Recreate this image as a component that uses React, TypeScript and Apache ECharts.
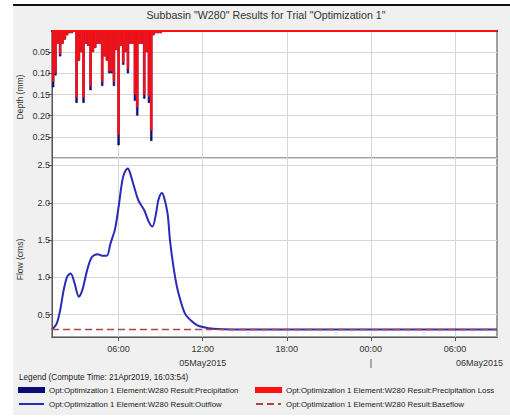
import React, { useEffect, useRef } from "react";
import * as echarts from "echarts";

const FONT = '"Liberation Sans", Arial, Helvetica, sans-serif';

const chartTitle = 'Subbasin "W280" Results for Trial "Optimization 1"';
const legendTitle = "Legend (Compute Time: 21Apr2019, 16:03:54)";
const precipName = "Opt:Optimization 1 Element:W280 Result:Precipitation";
const lossName = "Opt:Optimization 1 Element:W280 Result:Precipitation Loss";
const outflowName = "Opt:Optimization 1 Element:W280 Result:Outflow";
const baseflowName = "Opt:Optimization 1 Element:W280 Result:Baseflow";
const depthAxisName = "Depth (mm)";
const flowAxisName = "Flow (cms)";

const axisStart = "2015-05-05T01:15:00";
const axisEnd = "2015-05-06T09:00:00";
const xTickTimes = [
  "2015-05-05T06:00:00",
  "2015-05-05T12:00:00",
  "2015-05-05T18:00:00",
  "2015-05-06T00:00:00",
  "2015-05-06T06:00:00",
];
const dateLabels = [
  { time: "2015-05-05T12:00:00", text: "05May2015" },
  { time: "2015-05-06T00:00:00", text: "|" },
  { time: "2015-05-06T06:00:00", text: "06May2015" },
];

// Incremental precipitation and loss, 10-minute blocks starting at precipStart
const precipStart = "2015-05-05T01:15:00";
const precipStepMinutes = 10;
const precipDepth = [
  0.133, 0.105, 0.03, 0.06, 0.03, 0.02, 0.01, 0.005, 0.005, 0,
  0.17, 0.07, 0.05, 0.17, 0.03, 0.035, 0.14, 0.05, 0.04, 0.03,
  0.03, 0.13, 0.06, 0.07, 0.1, 0.1, 0.13, 0.045, 0.27, 0.035,
  0.08, 0.05, 0.1, 0.03, 0.03, 0.165, 0.2, 0.03, 0.03, 0.16,
  0.05, 0.17, 0.26, 0.01, 0.005, 0.005, 0.005,
];
const lossDepth = [
  0.12, 0.1, 0.03, 0.055, 0.03, 0.02, 0.01, 0.005, 0.005, 0,
  0.158, 0.07, 0.05, 0.158, 0.03, 0.035, 0.13, 0.05, 0.04, 0.03,
  0.03, 0.12, 0.06, 0.07, 0.095, 0.095, 0.12, 0.045, 0.245, 0.035,
  0.075, 0.05, 0.09, 0.03, 0.03, 0.15, 0.18, 0.03, 0.03, 0.15,
  0.05, 0.155, 0.235, 0.01, 0.005, 0.005, 0.005,
];

const outflowTimes = [
  "2015-05-05T01:15", "2015-05-05T01:35", "2015-05-05T01:50", "2015-05-05T02:05",
  "2015-05-05T02:20", "2015-05-05T02:35", "2015-05-05T02:50", "2015-05-05T03:10",
  "2015-05-05T03:25", "2015-05-05T03:45", "2015-05-05T04:05", "2015-05-05T04:30",
  "2015-05-05T04:50", "2015-05-05T05:10", "2015-05-05T05:25", "2015-05-05T05:45",
  "2015-05-05T06:00", "2015-05-05T06:15", "2015-05-05T06:25", "2015-05-05T06:40",
  "2015-05-05T06:50", "2015-05-05T07:05", "2015-05-05T07:25", "2015-05-05T07:50",
  "2015-05-05T08:10", "2015-05-05T08:25", "2015-05-05T08:40", "2015-05-05T08:50",
  "2015-05-05T09:05", "2015-05-05T09:15", "2015-05-05T09:30", "2015-05-05T09:40",
  "2015-05-05T09:55", "2015-05-05T10:10", "2015-05-05T10:25", "2015-05-05T10:45",
  "2015-05-05T11:10", "2015-05-05T11:35", "2015-05-05T12:05", "2015-05-05T12:45",
  "2015-05-05T14:10", "2015-05-05T18:00", "2015-05-06T00:00", "2015-05-06T06:00",
  "2015-05-06T09:00",
];
const outflowValues = [
  0.3, 0.38, 0.56, 0.83,
  1.01, 1.05, 0.94, 0.74,
  0.83, 1.09, 1.27, 1.31,
  1.29, 1.29, 1.45, 1.65,
  1.94, 2.28, 2.4, 2.46,
  2.39, 2.23, 2.03, 1.9,
  1.74, 1.68, 1.85, 2.03,
  2.13, 2.07, 1.85, 1.5,
  1.14, 0.87, 0.69, 0.51,
  0.42, 0.36, 0.33, 0.31,
  0.3, 0.3, 0.3, 0.3,
  0.3,
];

const baseflowTimes = ["2015-05-05T01:15", "2015-05-06T09:00"];
const baseflowValues = [0.3, 0.3];

const ms = (s: string) => new Date(s).getTime();

export default function App() {
  const ref = useRef<HTMLDivElement>(null);

  useEffect(() => {
    if (!ref.current) return;
    const chart = echarts.init(ref.current, null, { renderer: "svg" });

    const step = precipStepMinutes * 60000;
    const p0 = ms(precipStart);
    const precipData = precipDepth.map((v, i) => [p0 + step * i + step / 2, v]);
    const lossData = lossDepth.map((v, i) => [p0 + step * i + step / 2, v]);
    const outflowData = outflowTimes.map((s, i) => [ms(s), outflowValues[i]]);
    const baseflowData = baseflowTimes.map((s, i) => [ms(s), baseflowValues[i]]);

    const xMin = ms(axisStart);
    const xMax = ms(axisEnd);
    const tickValues = xTickTimes.map(ms);
    const gridLine = { show: true, lineStyle: { color: "#d6d6d6", width: 1 } };
    const frameColor = "#555";

    const xLabelFormatter = (value: number) => {
      const d = new Date(value);
      const hh = String(d.getHours()).padStart(2, "0") + ":" + String(d.getMinutes()).padStart(2, "0");
      const idx = dateLabels.findIndex((x) => ms(x.time) === value);
      if (idx < 0) return `{t|${hh}}`;
      const key = idx === dateLabels.length - 1 ? "r" : "t";
      return `{t|${hh}}\n{${key}|${dateLabels[idx].text}}`;
    };

    const legendBase = {
      orient: "horizontal",
      padding: 0,
      itemWidth: 25,
      itemHeight: 4,
      itemGap: 0,
      selectedMode: false,
      textStyle: { fontSize: 7.9, color: "#1a1a1a", fontFamily: FONT },
    };

    const option: any = {
      animation: false,
      backgroundColor: "transparent",
      textStyle: { fontFamily: FONT },
      graphic: [
        {
          type: "text",
          x: 266,
          y: 15,
          style: {
            text: chartTitle,
            align: "center",
            verticalAlign: "middle",
            fontSize: 10.7,
            fill: "#333",
            fontFamily: FONT,
          },
        },
        {
          type: "text",
          x: 19,
          y: 377,
          style: {
            text: legendTitle,
            align: "left",
            verticalAlign: "middle",
            fontSize: 8.2,
            fill: "#1a1a1a",
            fontFamily: FONT,
          },
        },
      ],
      grid: [
        {
          left: 52, top: 31, width: 445, height: 127,
          show: true, backgroundColor: "#fff", borderColor: "#a0a0a0", borderWidth: 2,
          outerBoundsMode: "none",
        },
        {
          left: 52, top: 158, width: 445, height: 179,
          show: true, backgroundColor: "#fff", borderColor: "#a0a0a0", borderWidth: 2,
          outerBoundsMode: "none",
        },
      ],
      xAxis: [
        {
          type: "value", gridIndex: 0, min: xMin, max: xMax,
          position: "bottom",
          axisLine: { show: true, lineStyle: { color: "#111", width: 2 } },
          axisTick: { show: false, customValues: tickValues },
          axisLabel: { show: false, customValues: tickValues },
          splitLine: gridLine,
        },
        {
          type: "value", gridIndex: 1, min: xMin, max: xMax,
          position: "bottom",
          axisLine: { show: true, lineStyle: { color: frameColor, width: 1 } },
          axisTick: { show: true, length: 4, lineStyle: { color: frameColor }, customValues: tickValues },
          axisLabel: {
            show: true,
            margin: 5,
            customValues: tickValues,
            formatter: xLabelFormatter,
            hideOverlap: false,
            rich: {
              t: { fontSize: 9, color: "#333", lineHeight: 14, fontFamily: FONT },
              r: { fontSize: 9, color: "#333", lineHeight: 14, fontFamily: FONT, padding: [0, 0, 0, 49] },
            },
          },
          splitLine: gridLine,
        },
      ],
      yAxis: [
        {
          type: "value", gridIndex: 0, inverse: true, min: 0, max: 0.3, interval: 0.05,
          name: depthAxisName, nameLocation: "middle", nameGap: 28, nameMoveOverlap: false,
          nameTextStyle: { fontSize: 8.5, color: "#333", fontFamily: FONT, padding: [0, 5, 0, 0] },
          axisLine: { show: true, lineStyle: { color: frameColor, width: 1 } },
          axisTick: { show: true, length: 4, lineStyle: { color: frameColor } },
          axisLabel: {
            fontSize: 9, color: "#333", margin: 2, showMinLabel: false, showMaxLabel: false,
            formatter: (v: number) => (v <= 0.0001 || v >= 0.2999 ? "" : v.toFixed(2)),
          },
          splitLine: gridLine,
        },
        {
          type: "value", gridIndex: 1, min: 0.2, max: 2.6, splitNumber: 5,
          name: flowAxisName, nameLocation: "middle", nameGap: 28, nameMoveOverlap: false,
          nameTextStyle: { fontSize: 8.5, color: "#333", fontFamily: FONT, padding: [0, 24, 0, 0] },
          axisLine: { show: true, lineStyle: { color: frameColor, width: 1 } },
          axisTick: { show: true, length: 4, lineStyle: { color: frameColor } },
          axisLabel: {
            fontSize: 9, color: "#333", margin: 2, showMinLabel: false, showMaxLabel: false,
            formatter: (v: number) => {
              const r = Math.round(v * 2) / 2;
              return Math.abs(r - v) < 1e-6 ? v.toFixed(1) : "";
            },
          },
          splitLine: gridLine,
        },
      ],
      legend: [
        { ...legendBase, left: 18, top: 386, data: [{ name: precipName, icon: "rect" }] },
        { ...legendBase, left: 255, top: 386, data: [{ name: lossName, icon: "rect" }] },
        { ...legendBase, left: 18, top: 400, data: [{ name: outflowName, itemStyle: { opacity: 0 } }] },
        { ...legendBase, left: 255, top: 400, data: [{ name: baseflowName, itemStyle: { opacity: 0 } }] },
      ],
      series: [
        {
          name: precipName, type: "bar", xAxisIndex: 0, yAxisIndex: 0,
          data: precipData, barWidth: "100%", barGap: "-100%",
          itemStyle: { color: "#0c0c78", borderColor: "#0c0c78", borderWidth: 0.6 },
        },
        {
          name: lossName, type: "bar", xAxisIndex: 0, yAxisIndex: 0,
          data: lossData, barWidth: "100%", barGap: "-100%",
          itemStyle: { color: "#ff1010", borderColor: "#ff1010", borderWidth: 0.6 },
          markLine: {
            silent: true, symbol: "none", label: { show: false },
            lineStyle: { color: "#ff1010", width: 2, type: "solid" },
            data: [{ yAxis: 0 }],
          },
        },
        {
          name: outflowName, type: "line", xAxisIndex: 1, yAxisIndex: 1,
          data: outflowData, smooth: 0.3, symbol: "none",
          lineStyle: { color: "#2a2ab8", width: 2 },
          itemStyle: { color: "#2a2ab8" },
        },
        {
          name: baseflowName, type: "line", xAxisIndex: 1, yAxisIndex: 1,
          data: baseflowData, symbol: "none", z: 3,
          lineStyle: { color: "#b04646", width: 1.5, type: [7, 4] },
          itemStyle: { color: "#b04646" },
        },
      ],
    };

    chart.setOption(option);
    return () => chart.dispose();
  }, []);

  return (
    <div style={{ position: "fixed", left: 0, top: 0, width: 510, height: 419, background: "#fff" }}>
      <div
        style={{
          position: "absolute", left: 13, top: 4, width: 497, height: 411,
          background: "#f0f0f0", borderTop: "2px solid #111", boxSizing: "border-box",
        }}
      />
      <div ref={ref} style={{ position: "absolute", left: 0, top: 0, width: 510, height: 419 }} />
    </div>
  );
}
